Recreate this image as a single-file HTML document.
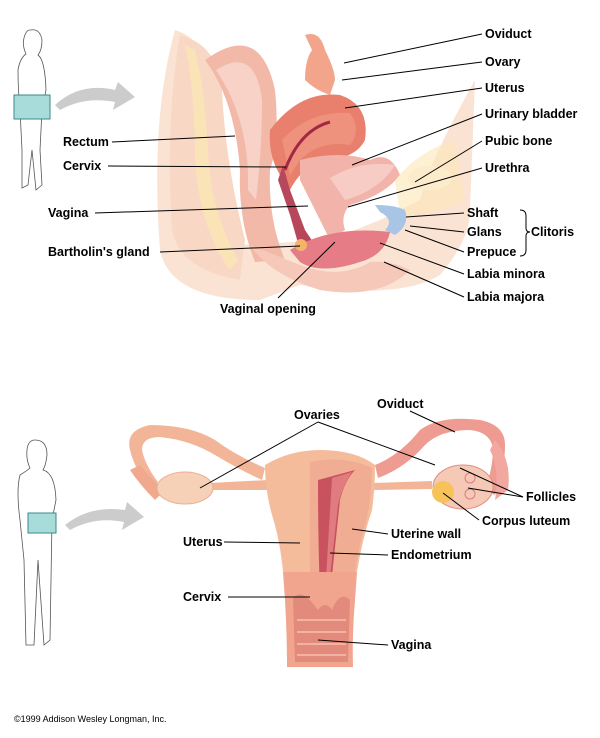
<!DOCTYPE html>
<html><head><style>
body{margin:0;background:#fff;}
svg{display:block;font-family:"Liberation Sans",Arial,sans-serif;}
.l{font-size:12.5px;font-weight:bold;fill:#000;}
line,polyline{stroke:#000;stroke-width:1;fill:none;}
</style></head><body>
<svg width="600" height="738" viewBox="0 0 600 738">
<!-- TOP: sagittal section -->
<path d="M175 30 Q150 120 160 250 Q170 300 260 300 L300 285 Q400 300 440 275 Q470 240 470 210 L475 80 Q430 160 420 200 L380 220 L330 240 L240 245 Q220 180 215 100 Q210 40 175 30Z" fill="#fbe3d4"/>
<path d="M180 35 Q165 120 172 230 Q180 270 240 280 L245 240 Q225 160 222 90 Q218 45 180 35Z" fill="#f8d8c4"/>
<path d="M185 45 Q195 90 195 160 Q200 230 230 270 L238 260 Q210 210 208 150 Q205 90 195 50Z" fill="#fbe6b5" opacity=".8"/>
<path d="M205 60 Q260 20 275 90 Q280 140 270 170 Q268 220 285 260 L255 262 Q238 220 240 170 Q235 100 205 60Z" fill="#f2b9a8"/>
<path d="M216 70 Q255 45 262 100 Q262 150 256 200 L248 190 Q250 120 216 70Z" fill="#f8d2c6"/>
<path d="M305 35 Q320 30 325 50 Q335 70 335 80 L330 95 Q315 90 305 80 Q305 60 312 50Z" fill="#f2a58a"/>
<path d="M270 130 Q300 90 340 95 Q370 105 365 140 Q355 160 320 160 Q300 170 290 190 L280 175 Q268 155 270 130Z" fill="#e9806d"/>
<path d="M282 140 Q310 110 350 113 Q362 130 350 145 Q320 140 300 160 L290 175Z" fill="#f09a85" opacity=".7"/>
<path d="M285 170 Q300 130 330 122" stroke="#a22843" stroke-width="3" fill="none"/>
<path d="M283 165 L290 190 L305 230 L315 245 L300 250 L290 215 L278 180Z" fill="#b7475a"/>
<path d="M300 160 Q340 150 370 160 Q390 150 400 175 Q385 195 350 205 Q340 215 345 230 L330 240 Q315 210 300 180Z" fill="#f1b3aa"/>
<path d="M330 178 Q360 160 395 165 Q380 190 345 200Z" fill="#f7ccc4"/>
<ellipse cx="430" cy="178" rx="22" ry="12" fill="#fff5ec"/>
<path d="M395 180 Q420 150 455 140 L465 200 Q440 215 400 215Z" fill="#fbe6b5" opacity=".6"/>
<path d="M375 205 Q395 205 405 210 Q410 225 395 235 L385 230 Q395 220 380 212Z" fill="#a9c5e6"/>
<path d="M290 250 Q330 225 390 232 Q385 255 360 262 Q320 275 300 262Z" fill="#e57c86"/>
<path d="M250 245 Q270 275 320 290 Q380 300 410 270 Q390 260 370 262 Q340 280 300 265Z" fill="#f6c8b9"/>
<circle cx="301" cy="245" r="6" fill="#f5b36b"/>
<!-- top labels -->
<text class="l" x="485" y="38">Oviduct</text>
<text class="l" x="485" y="66">Ovary</text>
<text class="l" x="485" y="92">Uterus</text>
<text class="l" x="485" y="118">Urinary bladder</text>
<text class="l" x="485" y="145">Pubic bone</text>
<text class="l" x="485" y="172">Urethra</text>
<text class="l" x="467" y="217">Shaft</text>
<text class="l" x="467" y="236">Glans</text>
<text class="l" x="467" y="256">Prepuce</text>
<text class="l" x="531" y="236">Clitoris</text>
<text class="l" x="467" y="278">Labia minora</text>
<text class="l" x="467" y="301">Labia majora</text>
<text class="l" x="63" y="146">Rectum</text>
<text class="l" x="63" y="170">Cervix</text>
<text class="l" x="48" y="217">Vagina</text>
<text class="l" x="48" y="256">Bartholin's gland</text>
<text class="l" x="220" y="313">Vaginal opening</text>
<line x1="482" y1="34" x2="344" y2="63"/>
<line x1="482" y1="62" x2="342" y2="80"/>
<line x1="482" y1="88" x2="345" y2="108"/>
<line x1="482" y1="114" x2="352" y2="165"/>
<line x1="482" y1="141" x2="415" y2="182"/>
<line x1="482" y1="168" x2="348" y2="207"/>
<line x1="464" y1="213" x2="406" y2="217"/>
<line x1="464" y1="232" x2="410" y2="226"/>
<line x1="464" y1="252" x2="405" y2="230"/>
<line x1="464" y1="274" x2="380" y2="243"/>
<line x1="464" y1="297" x2="384" y2="262"/>
<line x1="112" y1="142" x2="235" y2="136"/>
<line x1="108" y1="166" x2="286" y2="167"/>
<line x1="95" y1="213" x2="308" y2="206"/>
<line x1="160" y1="252" x2="300" y2="246"/>
<line x1="278" y1="298" x2="335" y2="242"/>
<path d="M520 210 Q526 210 526 216 L526 228 Q526 232 530 232 Q526 232 526 236 L526 250 Q526 256 520 256" stroke="#000" fill="none"/>
<!-- top figure -->
<path d="M30 30 Q40 28 42 40 Q42 50 38 55 Q45 60 46 90 L42 110 L40 150 L42 185 L36 190 L32 150 L28 185 L22 188 L22 150 L20 110 Q18 90 18 70 Q20 58 26 54 Q22 45 24 38 Q26 30 30 30Z" fill="#fff" stroke="#555" stroke-width=".8"/>
<rect x="14" y="95" width="36" height="24" fill="#a8dcda" stroke="#3a8a8a" stroke-width="1"/>
<path d="M55 105 Q80 82 115 90 L118 82 L135 97 L113 110 L115 102 Q85 96 60 110Z" fill="#ccc"/>
<!-- BOTTOM -->
<!-- left tube loop -->
<path d="M265 468 Q235 455 215 440 Q190 425 150 425 Q125 430 130 450 Q135 470 150 490 L158 482 Q145 465 142 450 Q142 437 160 437 Q190 440 215 455 Q240 470 262 480Z" fill="#f3b597"/>
<path d="M130 470 Q140 485 155 500 L165 490 Q150 478 140 465Z" fill="#f0a98e"/>
<!-- right tube loop -->
<path d="M375 465 Q400 455 420 430 Q440 415 480 420 Q505 425 505 445 Q505 470 495 495 L485 490 Q493 468 493 448 Q490 432 470 430 Q440 430 425 445 Q405 468 378 478Z" fill="#ee9c92"/>
<path d="M495 440 Q512 460 508 490 L495 500 Q500 470 490 450Z" fill="#f2a8a0"/>
<!-- ligaments -->
<path d="M210 483 L268 480 L268 490 L210 490Z" fill="#f3b597"/>
<path d="M372 483 L432 481 L432 489 L372 490Z" fill="#f3b597"/>
<!-- ovaries -->
<ellipse cx="185" cy="488" rx="28" ry="16" fill="#f6d1b7" stroke="#e8b096"/>
<ellipse cx="463" cy="487" rx="30" ry="22" fill="#f6c9b6" stroke="#de8f86"/>
<circle cx="443" cy="492" r="11" fill="#f7c25a"/>
<circle cx="470" cy="478" r="5" fill="none" stroke="#d97f7f"/>
<circle cx="470" cy="494" r="5" fill="none" stroke="#d97f7f"/>
<!-- uterus body -->
<path d="M265 465 Q290 450 320 450 Q355 450 375 465 Q375 490 372 510 Q362 540 357 572 L283 572 Q280 540 272 515 Q265 490 265 465Z" fill="#f5bc9c"/>
<path d="M310 462 Q345 455 372 468 Q372 500 365 525 Q358 550 355 572 L310 572Z" fill="#f0ad93"/>
<path d="M318 480 L355 470 Q345 480 340 500 L330 595 L320 595 Q318 540 318 480Z" fill="#c9525f"/>
<path d="M332 478 L352 472 Q343 485 338 505 L328 595 L325 595Z" fill="#e07b80"/>
<!-- cervix & vagina -->
<path d="M283 572 L357 572 L355 600 Q352 635 353 667 L287 667 Q287 635 285 600Z" fill="#f1a58e"/>
<path d="M293 598 Q300 590 310 600 L318 610 Q325 600 332 610 Q340 590 350 600 L348 662 L295 662Z" fill="#e28b7c"/>
<path d="M297 620 H346 M297 632 H346 M297 644 H346 M297 655 H346" stroke="#f3b3a2" stroke-width="2"/>
<text class="l" x="294" y="419">Ovaries</text>
<text class="l" x="377" y="408">Oviduct</text>
<text class="l" x="526" y="501">Follicles</text>
<text class="l" x="482" y="525">Corpus luteum</text>
<text class="l" x="183" y="546">Uterus</text>
<text class="l" x="391" y="538">Uterine wall</text>
<text class="l" x="391" y="559">Endometrium</text>
<text class="l" x="183" y="601">Cervix</text>
<text class="l" x="391" y="649">Vagina</text>
<line x1="318" y1="422" x2="200" y2="488"/>
<line x1="318" y1="422" x2="435" y2="465"/>
<line x1="410" y1="411" x2="455" y2="432"/>
<line x1="523" y1="497" x2="460" y2="468"/>
<line x1="523" y1="497" x2="468" y2="488"/>
<line x1="479" y1="520" x2="443" y2="493"/>
<line x1="224" y1="542" x2="300" y2="543"/>
<line x1="388" y1="534" x2="352" y2="529"/>
<line x1="388" y1="555" x2="330" y2="553"/>
<line x1="228" y1="597" x2="310" y2="597"/>
<line x1="388" y1="645" x2="318" y2="640"/>
<!-- bottom figure -->
<path d="M35 440 Q47 440 47 455 Q46 465 43 470 Q55 473 56 500 L52 520 L50 640 L44 645 L38 560 L34 645 L26 645 L24 560 L20 520 Q16 490 20 475 Q28 470 30 468 Q26 460 27 450 Q28 440 35 440Z" fill="#fff" stroke="#555" stroke-width=".8"/>
<rect x="28" y="513" width="28" height="20" fill="#a8dcda" stroke="#3a8a8a" stroke-width="1"/>
<path d="M65 525 Q90 505 125 510 L127 502 L144 517 L122 530 L124 522 Q95 516 70 530Z" fill="#ccc"/>
<text x="14" y="722" font-size="9" fill="#000">©1999 Addison Wesley Longman, Inc.</text>
</svg>
</body></html>
